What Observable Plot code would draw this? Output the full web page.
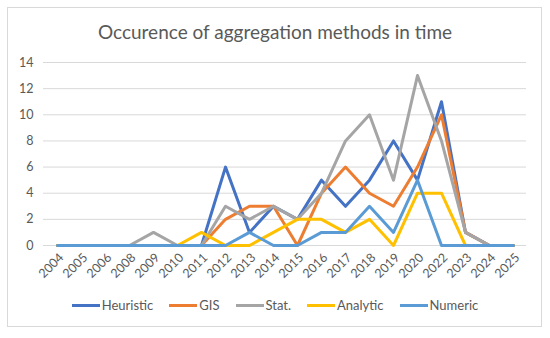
<!DOCTYPE html>
<html>
<head>
<meta charset="utf-8">
<script src="https://cdn.jsdelivr.net/npm/d3@7"></script>
<script src="https://cdn.jsdelivr.net/npm/@observablehq/plot@0.6"></script>
<style>
  html, body { margin: 0; padding: 0; background: #fff; }
  #wrap { position: relative; width: 550px; height: 338px; overflow: hidden; font-family: Lato, "Open Sans", sans-serif; }
  #frame { position: absolute; left: 7px; top: 7px; width: 535px; height: 320px; border: 1px solid #d9d9d9; box-sizing: border-box; }
  #title { position: absolute; left: 0; top: 20px; width: 550px; text-align: center; font-size: 19px; color: #595959; }
  #chart { position: absolute; left: 0; top: 45px; }
  #legend { position: absolute; left: 0; top: 297px; width: 550px; display: flex; justify-content: center; gap: 16px; font-size: 13px; color: #595959; }
  .item { display: flex; align-items: center; }
  .sw { width: 28px; height: 3px; margin-right: 2px; }
</style>
</head>
<body>
<div id="wrap">
  <div id="frame"></div>
  <div id="title">Occurence of aggregation methods in time</div>
  <div id="chart"></div>
  <div id="legend"></div>
</div>
<script>
const years = ["2004","2005","2006","2008","2009","2010","2011","2012","2013","2014","2015","2016","2017","2018","2019","2020","2022","2023","2024","2025"];
const heuristic = [0,0,0,0,0,0,0,6,1,3,2,5,3,5,8,5,11,1,0,0];
const gis       = [0,0,0,0,0,0,0,2,3,3,0,4,6,4,3,6,10,1,0,0];
const stat      = [0,0,0,0,1,0,0,3,2,3,2,4,8,10,5,13,8,1,0,0];
const analytic  = [0,0,0,0,0,0,1,0,0,1,2,2,1,2,0,4,4,0,0,0];
const numeric   = [0,0,0,0,0,0,0,0,1,0,0,1,1,3,1,5,0,0,0,0];
const seriesNames = ["Heuristic","GIS","Stat.","Analytic","Numeric"];
const seriesColors = ["#4472C4","#ED7D31","#A5A5A5","#FFC000","#5B9BD5"];
const yTicks = [0,2,4,6,8,10,12,14];

const seriesValues = [heuristic, gis, stat, analytic, numeric];
const data = [];
seriesNames.forEach((s, i) => years.forEach((y, j) => data.push({series: s, year: y, value: seriesValues[i][j]})));

const chart = Plot.plot({
  width: 550,
  height: 250,
  marginLeft: 43,
  marginRight: 24,
  marginTop: 17,
  marginBottom: 50,
  style: {fontFamily: "Lato, 'Open Sans', sans-serif", fontSize: "12px", color: "#595959", background: "transparent"},
  x: {type: "point", domain: years, padding: 0.5, label: null},
  y: {domain: [0, 14], label: null},
  color: {domain: seriesNames, range: seriesColors},
  marks: [
    Plot.gridY(yTicks, {stroke: "#d9d9d9", strokeOpacity: 1, strokeWidth: 1}),
    Plot.axisY(yTicks, {tickSize: 0, tickPadding: 10, fontSize: 12.5, fill: "#595959"}),
    Plot.axisX({tickSize: 0, tickPadding: 10, dx: 4, tickRotate: -45, fontSize: 12.5, fill: "#595959"}),
    Plot.line(data, {x: "year", y: "value", z: "series", stroke: "series", strokeWidth: 3, strokeLinejoin: "round", strokeLinecap: "round"})
  ]
});
document.getElementById("chart").appendChild(chart);

const legend = document.getElementById("legend");
seriesNames.forEach((s, i) => {
  const it = document.createElement("div");
  it.className = "item";
  const sw = document.createElement("div");
  sw.className = "sw";
  sw.style.background = seriesColors[i];
  const t = document.createElement("span");
  t.textContent = s;
  it.appendChild(sw);
  it.appendChild(t);
  legend.appendChild(it);
});
</script>
</body>
</html>
